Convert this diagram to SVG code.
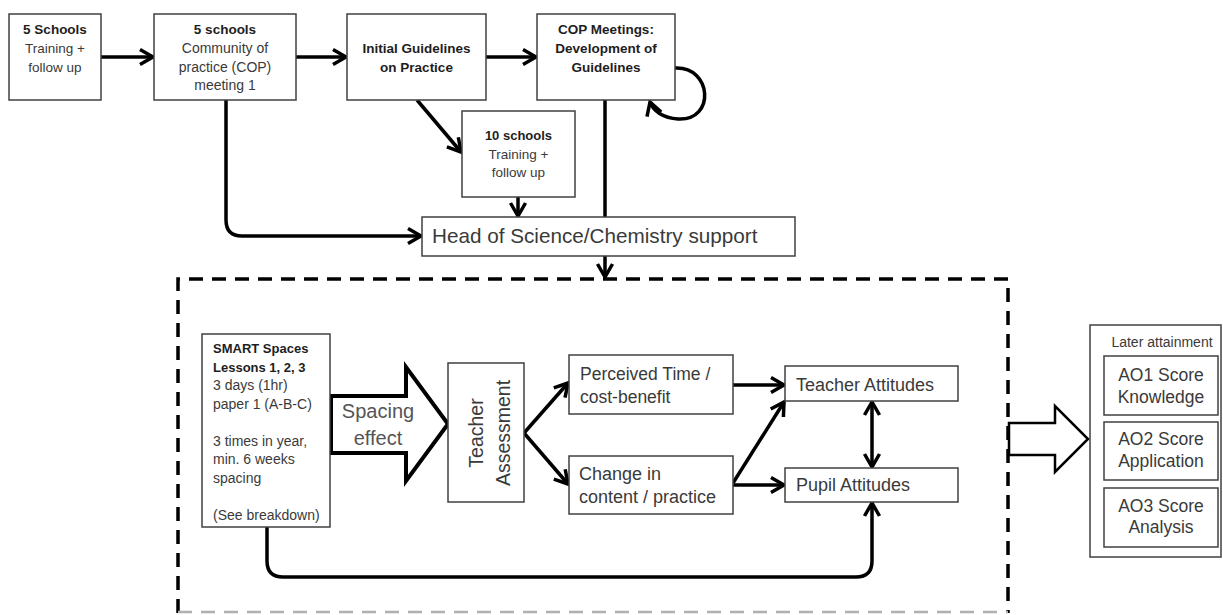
<svg xmlns="http://www.w3.org/2000/svg" width="1223" height="615" viewBox="0 0 1223 615">
<defs>
<marker id="ah" viewBox="0 0 20 20" refX="16" refY="10" markerWidth="20" markerHeight="20" markerUnits="userSpaceOnUse" orient="auto-start-reverse">
<path d="M3,2.5 L16,10 L3,17.5" fill="none" stroke="#000" stroke-width="3.5" stroke-linejoin="miter"/>
</marker>
</defs>
<style>
.box{fill:#fff;stroke:#404040;stroke-width:1.5}
.t{font-family:"Liberation Sans",Arial,sans-serif;fill:#3a3a3a}
.b{font-weight:bold;fill:#1e1e1e}
.c{text-anchor:middle}
.s13{font-size:13px}
.s135{font-size:13.5px}
.s14{font-size:14px}
.s175{font-size:17.5px}
.s18{font-size:18px}
.conn{fill:none;stroke:#000;stroke-width:3.5}
.block{fill:#fff;stroke:#000;stroke-linejoin:miter}
</style>

<g id="container">
<path d="M178,613 L178,279 L1008,279 L1008,613" fill="none" stroke="#000" stroke-width="3.5" stroke-dasharray="14 9"/>
<path d="M178,612 L1008,612" fill="none" stroke="#b0b0b0" stroke-width="2.5" stroke-dasharray="14 9"/>
</g>

<g id="connectors">
<path class="conn" d="M101,57 L153,57" marker-end="url(#ah)"/>
<path class="conn" d="M296,57 L346,57" marker-end="url(#ah)"/>
<path class="conn" d="M486,57 L536,57" marker-end="url(#ah)"/>
<path class="conn" d="M675,68 C712,66 716,121 678,119 C663,118 653,111 650,102" marker-end="url(#ah)"/>
<path class="conn" d="M226,100 L226,220 Q226,236 242,236 L421,236" marker-end="url(#ah)"/>
<path class="conn" d="M417,100 L461,152" marker-end="url(#ah)"/>
<path class="conn" d="M518,197 L518,216" marker-end="url(#ah)"/>
<path class="conn" d="M605,100 L605,217"/>
<path class="conn" d="M605,256 L605,277" marker-end="url(#ah)"/>
<path class="conn" d="M267,527 L267,561 Q267,577 283,577 L856,577 Q872,577 872,561 L872,503" marker-end="url(#ah)"/>
<path class="conn" d="M524,433 L568,383" marker-end="url(#ah)"/>
<path class="conn" d="M524,433 L568,484" marker-end="url(#ah)"/>
<path class="conn" d="M733,385 L784,385" marker-end="url(#ah)"/>
<path class="conn" d="M733,483 L784,402" marker-end="url(#ah)"/>
<path class="conn" d="M733,485 L784,485" marker-end="url(#ah)"/>
<path class="conn" d="M872,402 L872,467" marker-start="url(#ah)" marker-end="url(#ah)"/>
<polygon class="block" stroke-width="4" points="331,396 406,396 406,367 448,424 406,481 406,453 331,453"/>
<polygon class="block" stroke-width="2.5" points="1009,423 1055,423 1055,406 1088,439 1055,472 1055,455 1009,455"/>
<text class="t c" x="378" y="418" font-size="20" fill="#555" style="fill:#555">Spacing</text>
<text class="t c" x="378" y="445" font-size="20" style="fill:#555">effect</text>
</g>

<g id="n-5schools">
<rect class="box" x="9" y="14" width="92" height="86"/>
<text class="t b c s135" x="55" y="34">5 Schools</text>
<text class="t c s135" x="55" y="53">Training +</text>
<text class="t c s135" x="55" y="72">follow up</text>
</g>

<g id="n-cop1">
<rect class="box" x="154" y="14" width="142" height="86"/>
<text class="t b c s135" x="225" y="34">5 schools</text>
<text class="t c s14" x="225" y="53">Community of</text>
<text class="t c s14" x="225" y="72">practice (COP)</text>
<text class="t c s14" x="225" y="90">meeting 1</text>
</g>

<g id="n-initial">
<rect class="box" x="347" y="14" width="139" height="86"/>
<text class="t b c s135" x="416.5" y="53">Initial Guidelines</text>
<text class="t b c s135" x="416.5" y="72">on Practice</text>
</g>

<g id="n-copmeetings">
<rect class="box" x="537" y="14" width="138" height="86"/>
<text class="t b c s135" x="606" y="34">COP Meetings:</text>
<text class="t b c s135" x="606" y="53">Development of</text>
<text class="t b c s135" x="606" y="72">Guidelines</text>
</g>

<g id="n-10schools">
<rect class="box" x="462" y="111" width="113" height="86"/>
<text class="t b c s13" x="518.5" y="140">10 schools</text>
<text class="t c s135" x="518.5" y="159">Training +</text>
<text class="t c s135" x="518.5" y="177">follow up</text>
</g>

<g id="n-head">
<rect class="box" x="422" y="217" width="373" height="39"/>
<text class="t" x="432" y="243" font-size="20.7">Head of Science/Chemistry support</text>
</g>

<g id="n-smart">
<rect class="box" x="202" y="334" width="128" height="193"/>
<text class="t b s13" x="213" y="353">SMART Spaces</text>
<text class="t b s13" x="213" y="371.5">Lessons 1, 2, 3</text>
<text class="t s14" x="213" y="390">3 days (1hr)</text>
<text class="t s14" x="213" y="408.5">paper 1 (A-B-C)</text>
<text class="t s14" x="213" y="445.5">3 times in year,</text>
<text class="t s14" x="213" y="464">min. 6 weeks</text>
<text class="t s14" x="213" y="482.5">spacing</text>
<text class="t s14" x="213" y="519.5">(See breakdown)</text>
</g>

<g id="n-assessment">
<rect class="box" x="448" y="363" width="76" height="139"/>
<text class="t c" font-size="19.5" transform="translate(483,433) rotate(-90)">Teacher</text>
<text class="t c" font-size="19.5" transform="translate(510,433) rotate(-90)">Assessment</text>
</g>

<g id="n-perceived">
<rect class="box" x="569" y="355" width="164" height="59"/>
<text class="t s175" x="580" y="380">Perceived Time /</text>
<text class="t s175" x="580" y="403">cost-benefit</text>
</g>

<g id="n-change">
<rect class="box" x="569" y="456" width="164" height="58"/>
<text class="t s18" x="579" y="480">Change in</text>
<text class="t s18" x="579" y="503">content / practice</text>
</g>

<g id="n-teacher">
<rect class="box" x="785" y="366" width="173" height="35"/>
<text class="t s18" x="796" y="391">Teacher Attitudes</text>
</g>

<g id="n-pupil">
<rect class="box" x="785" y="468" width="173" height="34"/>
<text class="t s18" x="796" y="491">Pupil Attitudes</text>
</g>

<g id="n-later">
<rect class="box" x="1090" y="325" width="131" height="232"/>
<text class="t c s14" x="1162" y="347">Later attainment</text>
</g>

<g id="n-ao1">
<rect class="box" x="1104" y="356" width="114" height="59"/>
<text class="t c s175" x="1161" y="381">AO1 Score</text>
<text class="t c s175" x="1161" y="403">Knowledge</text>
</g>

<g id="n-ao2">
<rect class="box" x="1104" y="422" width="114" height="58"/>
<text class="t c s175" x="1161" y="445">AO2 Score</text>
<text class="t c s175" x="1161" y="467">Application</text>
</g>

<g id="n-ao3">
<rect class="box" x="1104" y="488" width="114" height="59"/>
<text class="t c s175" x="1161" y="512">AO3 Score</text>
<text class="t c s175" x="1161" y="533">Analysis</text>
</g>
</svg>
